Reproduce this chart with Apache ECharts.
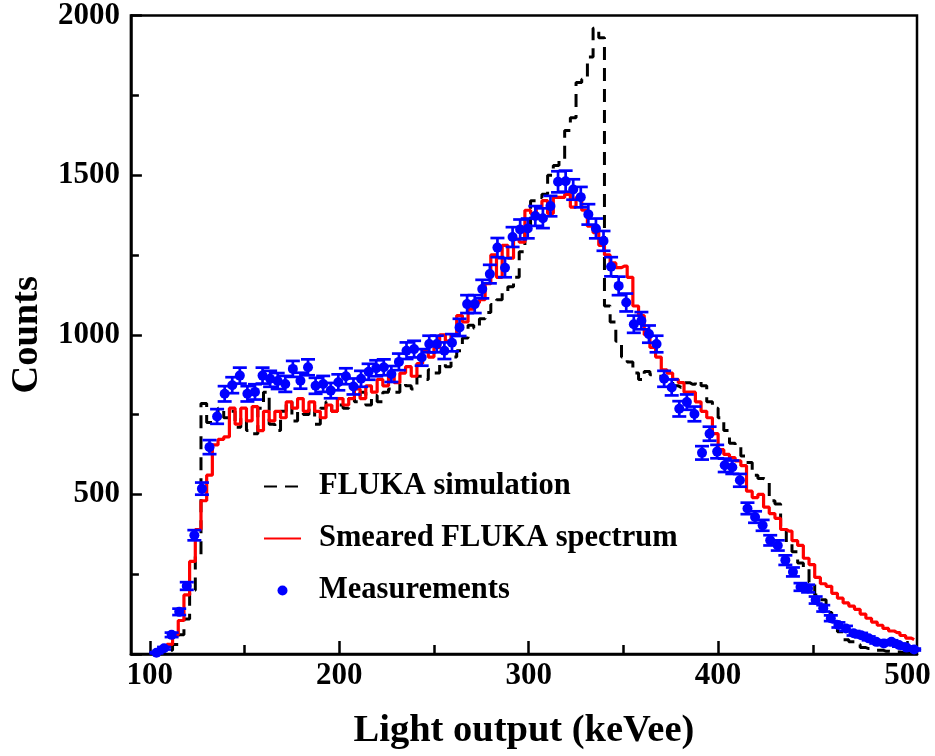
<!DOCTYPE html>
<html>
<head>
<meta charset="utf-8">
<script src="https://cdn.jsdelivr.net/npm/echarts@6/dist/echarts.min.js"></script>
<style>
html,body{margin:0;padding:0;background:#fff;}
#chart{width:935px;height:756px;}
</style>
</head>
<body>
<div id="chart"></div>
<script>
// Histogram bin centres (keVee) for the FLUKA spectra
const simX = [
101.5,104.5,107.5,110.5,113.5,116.5,119.5,122.5,125.5,128.5,
131.5,134.5,137.5,140.5,143.5,146.5,149.5,152.5,155.5,158.5,
161.5,164.5,167.5,170.5,173.5,176.5,179.5,182.5,185.5,188.5,
191.5,194.5,197.5,200.5,203.5,206.5,209.5,212.5,215.5,218.5,
221.5,224.5,227.5,230.5,233.5,236.5,239.5,242.5,245.5,248.5,
251.5,254.5,257.5,260.5,263.5,266.5,269.5,272.5,275.5,278.5,
281.5,284.5,287.5,290.5,293.5,296.5,299.5,302.5,305.5,308.5,
311.5,314.5,317.5,320.5,323.5,326.5,329.5,332.5,335.5,338.5,
341.5,344.5,347.5,350.5,353.5,356.5,359.5,362.5,365.5,368.5,
371.5,374.5,377.5,380.5,383.5,386.5,389.5,392.5,395.5,398.5,
401.5,404.5,407.5,410.5,413.5,416.5,419.5,422.5,425.5,428.5,
431.5,434.5,437.5,440.5,443.5,446.5,449.5,452.5,455.5,458.5,
461.5,464.5,467.5,470.5,473.5,476.5,479.5,482.5,485.5,488.5,
491.5,494.5,497.5,500.5,503.5
];
// FLUKA simulation (black dashed)
const flukaY = [
0,1,4,12,30,60,110,200,310,785,
725,745,770,740,760,710,740,700,690,770,
820,720,700,760,790,730,760,750,780,720,
770,790,760,780,770,800,790,820,780,810,
790,820,830,820,850,840,830,870,860,890,
880,910,900,930,950,990,1030,1020,1050,1070,
1095,1110,1130,1150,1180,1260,1340,1420,1430,1440,
1500,1530,1550,1640,1680,1790,1800,1870,1960,1930,
1090,1040,980,930,915,880,860,885,875,870,
860,865,840,835,850,845,855,840,790,770,
740,700,660,650,620,600,560,550,545,480,
470,400,350,320,285,270,225,185,170,130,
95,70,45,38,30,20,17,12,12,9,
8,6,5,4,3
];
// Smeared FLUKA spectrum (red)
const smearedY = [
2,6,15,30,60,105,185,290,390,480,
560,655,672,680,770,720,770,730,775,700,
760,730,760,740,790,770,800,760,790,760,
740,780,760,800,780,800,830,800,840,820,
860,840,870,850,880,900,870,910,950,930,
960,1000,980,1000,1060,1040,1080,1100,1110,1160,
1250,1180,1280,1240,1300,1290,1390,1380,1400,1420,
1380,1430,1430,1440,1400,1430,1390,1340,1320,1280,
1250,1225,1210,1215,1180,1090,1060,1000,960,930,
890,880,860,850,820,820,790,760,740,690,
640,625,615,605,590,510,490,500,460,440,
425,390,385,355,340,300,280,240,220,212,
190,175,160,150,140,125,112,100,90,80,
72,67,58,50,45
];
// Measurements (blue points with error bars)
const measX = [
103.5,107.5,111.5,115.5,119.5,123.5,127.5,131.5,135.5,139.5,
143.5,147.5,151.5,155.5,159.5,163.5,167.5,171.5,175.5,179.5,
183.5,187.5,191.5,195.5,199.5,203.5,207.5,211.5,215.5,219.5,
223.5,227.5,231.5,235.5,239.5,243.5,247.5,251.5,255.5,259.5,
263.5,267.5,271.5,275.5,279.5,283.5,287.5,291.5,295.5,299.5,
303.5,307.5,311.5,315.5,319.5,323.5,327.5,331.5,335.5,339.5,
343.5,347.5,351.5,355.5,359.5,363.5,367.5,371.5,375.5,379.5,
383.5,387.5,391.5,395.5,399.5,403.5,407.5,411.5,415.5,419.5,
423.5,427.5,431.5,435.5,439.5,443.5,447.5,451.5,455.5,459.5,
463.5,467.5,471.5,475.5,479.5,483.5,487.5,491.5,495.5,499.5,
503.5
];
const measY = [
4,18,60,132,213,372,518,648,744,815,
842,872,815,821,872,862,855,846,893,856,
898,840,846,825,851,870,838,862,884,895,
898,877,915,950,955,929,971,971,950,975,
1023,1096,1096,1143,1190,1273,1210,1306,1330,1333,
1372,1365,1403,1479,1481,1455,1431,1377,1333,1294,
1213,1153,1101,1033,1044,1002,971,862,835,768,
789,752,630,690,634,591,585,544,456,429,
403,356,340,294,257,210,205,169,143,112,
91,80,65,59,49,38,33,38,28,20,
14
];
const measErr = [
2,4,7,10,12,16,19,22,23,24,
25,25,24,24,25,25,25,25,25,25,
25,25,25,24,25,25,25,25,25,25,
25,25,26,26,26,26,26,26,26,27,
27,28,28,29,29,30,30,31,31,31,
31,31,32,33,33,32,32,32,31,31,
30,29,28,27,27,27,26,25,25,24,
24,23,21,22,21,21,21,20,18,18,
17,16,16,15,14,12,12,11,10,9,
8,8,7,7,6,5,5,5,5,4,
3
];
const xMajorTicks = [100, 200, 300, 400, 500];
const xMinorTicks = [150, 250, 350, 450];
const seriesNames = ['FLUKA simulation', 'Smeared FLUKA spectrum', 'Measurements'];
const xTitle = 'Light output (keVee)';
const yTitle = 'Counts';

const FONT = 'Liberation Serif';
const chart = echarts.init(document.getElementById('chart'), null, {renderer: 'canvas'});

const flukaData = simX.map((x, i) => [x, flukaY[i]]);
const smearedData = simX.map((x, i) => [x, smearedY[i]]);
const measData = measX.map((x, i) => [x, measY[i]]);
const errData = measX.map((x, i) => [x, measY[i], measErr[i]]);

const BLUE = '#0000ff';
function renderErr(params, api) {
  const x = api.value(0), y = api.value(1), e = api.value(2);
  const top = api.coord([x, y + e]);
  const bot = api.coord([x, y - e]);
  const hw = 7;
  const st = {stroke: BLUE, lineWidth: 2.7};
  return {
    type: 'group',
    children: [
      {type: 'line', shape: {x1: top[0], y1: top[1], x2: bot[0], y2: bot[1]}, style: st},
      {type: 'line', shape: {x1: top[0] - hw, y1: top[1], x2: top[0] + hw, y2: top[1]}, style: st},
      {type: 'line', shape: {x1: bot[0] - hw, y1: bot[1], x2: bot[0] + hw, y2: bot[1]}, style: st}
    ]
  };
}

const labelFont = {fontFamily: FONT, fontWeight: 'bold', fontSize: 31, color: '#000'};
const hiddenSymbol = {color: 'transparent', borderColor: 'transparent', borderWidth: 0, opacity: 0};

chart.setOption({
  animation: false,
  backgroundColor: '#fff',
  grid: {left: 125, right: 18, top: 15, bottom: 102, show: true, borderColor: '#000', borderWidth: 2.5, backgroundColor: 'transparent'},
  legend: {
    data: [
      {name: seriesNames[0], itemStyle: hiddenSymbol},
      {name: seriesNames[1], itemStyle: hiddenSymbol},
      {name: seriesNames[2]}
    ],
    orient: 'vertical',
    left: 263,
    top: 471,
    padding: 0,
    itemWidth: 37,
    itemHeight: 10,
    itemGap: 21,
    selectedMode: false,
    textStyle: {fontFamily: FONT, fontWeight: 'bold', fontSize: 30.5, color: '#000', padding: [0, 0, 0, 13]}
  },
  xAxis: [
    {
      type: 'value', min: 90, max: 505, position: 'bottom',
      axisLine: {show: true, lineStyle: {color: '#000', width: 2.5}},
      axisTick: {show: true, inside: true, length: 13, customValues: xMajorTicks, lineStyle: {color: '#000', width: 2.5}},
      axisLabel: Object.assign({show: true, margin: 6, customValues: xMajorTicks}, labelFont),
      splitLine: {show: false},
      name: xTitle, nameLocation: 'middle', nameGap: 58,
      nameTextStyle: {fontFamily: FONT, fontWeight: 'bold', fontSize: 38.5, color: '#000'}
    },
    {
      type: 'value', min: 90, max: 505, position: 'bottom',
      axisLine: {show: false},
      axisTick: {show: true, inside: true, length: 9, customValues: xMinorTicks, lineStyle: {color: '#000', width: 2.5}},
      axisLabel: {show: false},
      splitLine: {show: false}
    }
  ],
  yAxis: {
    type: 'value', min: 0, max: 2000, interval: 500,
    axisLine: {show: true, lineStyle: {color: '#000', width: 2.5}},
    axisTick: {show: true, inside: true, length: 11, lineStyle: {color: '#000', width: 2.5}},
    minorTick: {show: true, splitNumber: 2, length: 8, lineStyle: {color: '#000', width: 2.5}},
    axisLabel: Object.assign({margin: 11, formatter: v => (v === 0 ? '' : String(v))}, labelFont),
    splitLine: {show: false},
    name: yTitle, nameLocation: 'middle', nameGap: 78, nameRotate: 90,
    nameTextStyle: {fontFamily: FONT, fontWeight: 'bold', fontSize: 38.5, color: '#000'}
  },
  series: [
    {
      name: seriesNames[0], type: 'line', step: 'middle', data: flukaData,
      symbol: 'none', showSymbol: false, z: 2,
      lineStyle: {color: '#000', width: 3, type: [13, 8]},
      itemStyle: {color: '#000'}
    },
    {
      name: seriesNames[1], type: 'line', step: 'middle', data: smearedData,
      symbol: 'none', showSymbol: false, z: 3,
      lineStyle: {color: '#ff0000', width: 3.2, type: 'solid'},
      itemStyle: {color: '#ff0000'}
    },
    {
      name: 'errors', type: 'custom', renderItem: renderErr, data: errData, z: 4,
      encode: {x: 0, y: 1}
    },
    {
      name: seriesNames[2], type: 'scatter', data: measData, symbol: 'circle', symbolSize: 10, z: 5,
      itemStyle: {color: BLUE, opacity: 1}
    }
  ]
});
</script>
</body>
</html>
